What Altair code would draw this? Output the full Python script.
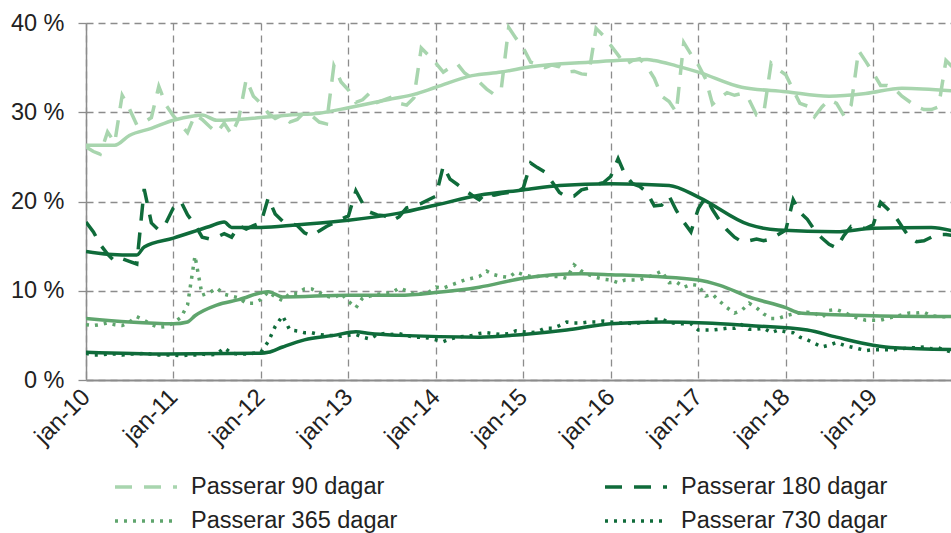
import altair as alt
import pandas as pd

serier = ["Passerar 90 dagar", "Passerar 180 dagar", "Passerar 365 dagar", "Passerar 730 dagar"]
farger = ["#A8D5AE", "#0F6B3A", "#5FA56D", "#0F6B3A"]
streck = [[17, 12], [17, 12], [3, 6], [3, 6]]

# monthly raw values, jan-10 .. dec-19 (percent)
p90 = [26.1, 25.6, 25.3, 27.8, 26.6, 31.9, 30.4, 28.6, 28.9, 29.4, 32.9, 30.8,
       29.6, 28.6, 27.7, 29.7, 29.2, 28.4, 27.7, 28.8, 27.5, 29.3, 33.7, 31.8,
       31.0, 29.9, 29.3, 29.7, 28.9, 29.2, 30.0, 29.6, 28.9, 28.7, 35.2, 33.4,
       32.5, 31.1, 31.4, 32.2, 31.1, 31.4, 31.7, 31.0, 30.8, 31.6, 37.2, 36.4,
       35.5, 34.5, 35.0, 35.4, 34.4, 33.8, 33.4, 32.6, 32.0, 32.6, 39.5, 38.3,
       37.2, 35.6, 35.4, 35.0, 35.3, 35.1, 34.5, 34.6, 34.3, 34.2, 39.4, 38.6,
       37.5, 36.4, 35.3, 35.8, 36.0, 35.1, 33.8, 31.8, 31.2, 30.0, 37.8, 36.5,
       35.3, 33.7, 30.9, 31.6, 32.2, 31.9, 32.1, 31.4, 29.7, 29.9, 35.5, 34.8,
       34.2, 32.5, 31.0, 30.7, 29.5, 30.6, 31.4, 31.0, 29.6, 30.8, 36.9, 35.7,
       34.4, 33.0, 33.0, 32.6, 31.8, 31.2, 30.6, 30.3, 30.3, 30.6, 35.8, 35.0]
p180 = [17.7, 16.6, 15.2, 14.1, 13.3, 13.6, 13.3, 13.0, 21.4, 17.6, 16.8, 17.6,
        19.3, 20.0, 18.5, 17.4, 16.0, 15.8, 16.0, 16.4, 16.0, 17.3, 16.9, 17.3,
        17.6, 20.4, 18.6, 17.8, 17.6, 17.3, 16.5, 16.1, 16.7, 17.2, 17.6, 18.0,
        18.4, 21.2, 19.8, 18.8, 18.5, 18.4, 17.8, 18.3, 19.3, 19.5, 19.8, 20.2,
        20.6, 24.0, 22.5, 21.9, 21.3, 20.7, 20.2, 21.0, 20.7, 20.9, 21.0, 21.0,
        21.5, 24.3, 23.8, 23.3, 22.2, 21.0, 20.5, 20.6, 21.3, 21.5, 21.9, 22.1,
        22.8, 24.8, 23.0, 22.0, 21.7, 21.0, 19.5, 19.6, 20.6, 19.0, 17.7, 16.6,
        19.2, 20.5, 19.1, 17.8, 16.8, 16.0, 15.5, 15.6, 15.8, 15.6, 15.8, 16.3,
        16.8, 20.2, 18.8, 18.0, 16.8, 15.9, 15.2, 14.8, 16.2, 17.2, 17.0, 17.0,
        17.4, 19.9, 19.2, 18.4, 17.2, 16.0, 15.5, 15.6, 16.0, 16.3, 16.3, 16.2]
p365 = [6.2, 6.1, 6.2, 6.4, 6.2, 6.1, 6.5, 7.1, 6.7, 6.2, 5.9, 6.0,
        6.4, 7.0, 8.4, 13.9, 9.5, 9.8, 10.3, 9.6, 9.4, 9.2, 8.6, 8.6,
        9.0, 9.9, 9.3, 8.9, 9.7, 9.7, 10.2, 10.2, 9.8, 9.4, 9.2, 9.7,
        8.8, 8.1, 9.2, 9.4, 9.6, 9.7, 9.8, 10.3, 10.0, 9.6, 9.7, 9.8,
        10.4, 10.3, 10.6, 10.9, 11.2, 11.4, 11.6, 12.2, 11.8, 11.6, 11.5, 12.1,
        11.8, 11.6, 11.6, 11.7, 11.6, 11.6, 11.4, 12.9, 12.2, 11.8, 11.5, 11.3,
        11.2, 10.9, 11.2, 11.2, 11.2, 11.5, 11.8, 12.2, 10.9, 11.0, 10.4, 10.7,
        10.6, 9.4, 9.6, 8.8, 8.1, 7.5, 7.8, 8.6, 8.1, 7.4, 6.9, 6.9,
        7.2, 7.4, 7.5, 7.6, 7.5, 7.0, 7.8, 7.9, 7.6, 7.2, 6.9, 6.7,
        6.7, 6.7, 6.9, 7.1, 7.3, 7.5, 7.5, 7.6, 7.2, 7.1, 7.1, 7.1]
p730 = [3.0, 2.8, 2.8, 2.9, 2.9, 2.8, 2.9, 2.9, 3.0, 2.9, 2.8, 2.8,
        2.8, 2.7, 2.8, 2.8, 2.9, 2.8, 2.9, 3.6, 3.0, 2.9, 2.9, 3.0,
        3.1, 4.3, 6.0, 7.2, 5.6, 5.5, 5.3, 5.3, 5.1, 5.0, 5.0, 4.9,
        5.0, 5.1, 4.8, 4.6, 5.1, 5.2, 5.1, 5.2, 5.0, 4.8, 4.8, 4.7,
        4.5, 4.3, 4.6, 4.8, 4.9, 5.0, 5.2, 5.3, 5.2, 5.1, 5.2, 5.5,
        5.4, 5.3, 5.4, 5.8, 5.8, 6.1, 6.5, 6.4, 6.4, 6.5, 6.5, 6.6,
        6.5, 6.4, 6.4, 6.3, 6.4, 6.5, 6.8, 6.8, 6.5, 6.3, 6.3, 6.3,
        5.6, 5.6, 5.6, 5.7, 5.8, 5.8, 6.2, 5.7, 5.7, 5.8, 5.3, 5.6,
        5.4, 5.3, 4.8, 4.5, 4.1, 3.7, 3.9, 4.2, 3.9, 3.7, 3.5, 3.3,
        3.4, 3.4, 3.4, 3.4, 3.5, 3.6, 3.6, 3.7, 3.5, 3.6, 3.3, 3.1]

# smoothed (solid) lines, read at selected months (index from jan-10)
s90_m = [0, 4, 6, 9, 12, 15, 16, 18, 24, 28, 32, 36, 42, 45, 48, 53, 57, 61, 69, 77, 78, 81, 84, 90, 96, 102, 107, 112, 119]
s90_v = [26.3, 26.3, 27.4, 28.2, 29.1, 29.6, 29.7, 29.1, 29.4, 29.7, 29.9, 30.5, 31.5, 32.0, 32.8, 34.1, 34.5, 35.1, 35.6, 35.9, 35.8, 35.2, 34.5, 32.8, 32.3, 31.8, 32.1, 32.7, 32.4]
s180_m = [0, 3, 7, 8, 12, 17, 19, 20, 24, 29, 36, 43, 48, 54, 60, 65, 72, 80, 84, 91, 95, 103, 108, 116, 119]
s180_v = [14.4, 14.1, 14.0, 14.9, 15.9, 17.2, 17.7, 17.1, 17.1, 17.4, 17.9, 18.7, 19.6, 20.7, 21.3, 21.8, 22.0, 21.8, 20.5, 17.4, 16.8, 16.6, 17.0, 17.1, 16.7]
s365_m = [0, 6, 12, 14, 15, 18, 21, 25, 27, 36, 43, 48, 54, 60, 68, 72, 84, 87, 91, 96, 98, 108, 119]
s365_v = [6.9, 6.5, 6.3, 6.5, 7.2, 8.4, 9.0, 9.9, 9.3, 9.5, 9.5, 9.8, 10.4, 11.4, 11.9, 11.8, 11.2, 10.6, 9.3, 8.1, 7.5, 7.2, 7.1]
s730_m = [0, 11, 24, 25, 27, 30, 34, 37, 39, 43, 54, 60, 66, 72, 79, 85, 91, 99, 103, 108, 111, 119]
s730_v = [3.1, 2.9, 3.0, 3.1, 3.7, 4.5, 5.0, 5.4, 5.2, 5.0, 4.8, 5.1, 5.6, 6.3, 6.5, 6.4, 6.1, 5.6, 4.8, 3.9, 3.6, 3.4]

ar = list(range(2010, 2020))


def datum_for(i):
    return f"{2010 + i // 12}-{i % 12 + 1:02d}-01T00:00:00"


raw_rows = []
for namn, vals in zip(serier, [p90, p180, p365, p730]):
    for i, v in enumerate(vals):
        raw_rows.append({"datum": datum_for(i), "varde": v, "serie": namn})
raw = pd.DataFrame(raw_rows)

sol_rows = []
for namn, farg, ms, vs in zip(serier, farger,
                              [s90_m, s180_m, s365_m, s730_m],
                              [s90_v, s180_v, s365_v, s730_v]):
    for m, v in zip(ms, vs):
        sol_rows.append({"datum": datum_for(m), "varde": v, "serie": namn, "farg": farg})
sol = pd.DataFrame(sol_rows)

FONT = "Liberation Sans"
GRID = "#8c8c8c"

x_scale = alt.Scale(domain=[alt.DateTime(year=2010, month=1, date=1),
                            alt.DateTime(year=2019, month=11, date=22)])
x_axis = alt.Axis(
    values=[alt.DateTime(year=y, month=1, date=1) for y in ar],
    labelExpr="'jan-' + timeFormat(datum.value, '%y')",
    labelAngle=-45, labelAlign="right", labelBaseline="middle",
    labelFontSize=24, labelPadding=13, ticks=False,
    domainColor=GRID, domainWidth=2,
    grid=True, gridDash=[7, 5], gridColor=GRID, gridWidth=1.3,
    title=None,
)
y_scale = alt.Scale(domain=[0, 40], nice=False)
y_axis = alt.Axis(
    values=[0, 10, 20, 30, 40], labelExpr="datum.value + ' %'",
    labelFontSize=23.5, labelPadding=14, tickSize=8, tickColor=GRID, tickWidth=1.3,
    domainColor=GRID, domainWidth=1.5,
    grid=True, gridDash=[7, 5], gridColor=GRID, gridWidth=1.3,
    title=None,
)

legend = alt.Legend(
    title=None, orient="none", legendX=27, legendY=452, direction="horizontal",
    columns=2, columnPadding=205, rowPadding=10,
    symbolType="stroke", symbolSize=3844, symbolStrokeWidth=3.5,
    clipHeight=24, labelFontSize=23.5, labelOffset=12, labelLimit=0,
    labelColor="#222222", labelFont=FONT,
)

solid = alt.Chart(sol).mark_line(strokeWidth=3.5, clip=True, interpolate="monotone").encode(
    x=alt.X("datum:T", scale=x_scale, axis=x_axis),
    y=alt.Y("varde:Q", scale=y_scale, axis=y_axis),
    detail="serie:N",
    color=alt.Color("farg:N", scale=None),
)

raw_layer = alt.Chart(raw).mark_line(strokeWidth=3.5, clip=True).encode(
    x=alt.X("datum:T", scale=x_scale, axis=x_axis),
    y=alt.Y("varde:Q", scale=y_scale, axis=y_axis),
    color=alt.Color("serie:N", scale=alt.Scale(domain=serier, range=farger),
                    legend=legend, sort=serier),
    strokeDash=alt.StrokeDash("serie:N", scale=alt.Scale(domain=serier, range=streck),
                              legend=legend, sort=serier),
)

chart = alt.layer(solid, raw_layer).properties(
    width=865, height=357,
    autosize=alt.AutoSizeParams(type="none"),
    padding={"left": 86, "top": 23, "right": 0, "bottom": 153},
    background="white",
).configure_view(stroke=None).configure_axis(
    labelFont=FONT, labelColor="#222222"
)

chart.save("out.html", embed_options={"renderer": "svg", "actions": False})
